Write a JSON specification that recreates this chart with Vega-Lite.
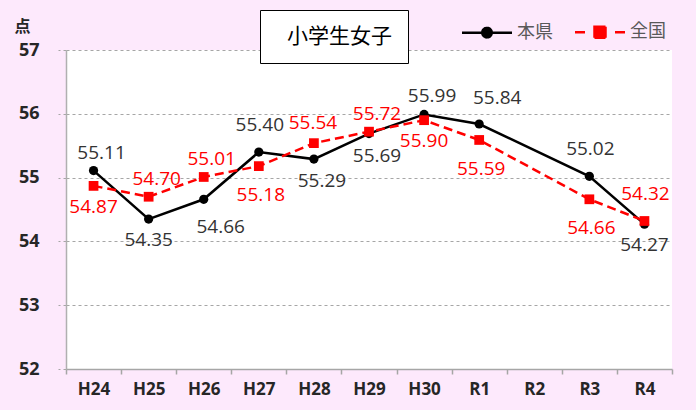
{
  "$schema": "https://vega.github.io/schema/vega-lite/v6.json",
  "width": 606,
  "height": 319,
  "autosize": {"type": "none"},
  "padding": {"left": 66, "top": 50, "right": 24, "bottom": 41},
  "background": "#fde9fc",
  "config": {
    "view": {"fill": "white", "stroke": null},
    "font": "Open Sans",
    "text": {"font": "Open Sans", "fontSize": 19}
  },
  "data": {
    "values": [
      {"x": "H24", "s": "本県", "v": 55.11},
      {"x": "H25", "s": "本県", "v": 54.35},
      {"x": "H26", "s": "本県", "v": 54.66},
      {"x": "H27", "s": "本県", "v": 55.40},
      {"x": "H28", "s": "本県", "v": 55.29},
      {"x": "H29", "s": "本県", "v": 55.69},
      {"x": "H30", "s": "本県", "v": 55.99},
      {"x": "R1", "s": "本県", "v": 55.84},
      {"x": "R3", "s": "本県", "v": 55.02},
      {"x": "R4", "s": "本県", "v": 54.27},
      {"x": "H24", "s": "全国", "v": 54.87},
      {"x": "H25", "s": "全国", "v": 54.70},
      {"x": "H26", "s": "全国", "v": 55.01},
      {"x": "H27", "s": "全国", "v": 55.18},
      {"x": "H28", "s": "全国", "v": 55.54},
      {"x": "H29", "s": "全国", "v": 55.72},
      {"x": "H30", "s": "全国", "v": 55.90},
      {"x": "R1", "s": "全国", "v": 55.59},
      {"x": "R3", "s": "全国", "v": 54.66},
      {"x": "R4", "s": "全国", "v": 54.32}
    ]
  },
  "encoding": {
    "x": {
      "field": "x",
      "type": "nominal",
      "sort": null,
      "scale": {
        "type": "band",
        "domain": ["H24", "H25", "H26", "H27", "H28", "H29", "H30", "R1", "R2", "R3", "R4"],
        "paddingInner": 0,
        "paddingOuter": 0
      },
      "axis": {
        "title": null,
        "grid": false,
        "labelAngle": 0,
        "domainColor": "#a6a6a6",
        "domainWidth": 1.5,
        "tickColor": "#a6a6a6",
        "tickWidth": 1.5,
        "tickSize": 5,
        "tickBand": "extent",
        "labelFont": "Open Sans",
        "labelFontSize": 17,
        "labelFontWeight": "bold",
        "labelColor": "#262626",
        "labelPadding": 7
      }
    },
    "y": {
      "field": "v",
      "type": "quantitative",
      "scale": {"domain": [52, 57], "nice": false, "zero": false},
      "axis": {
        "values": [52, 53, 54, 55, 56, 57],
        "grid": true,
        "gridColor": "#a6a6a6",
        "gridDash": [3, 3],
        "gridWidth": 1.2,
        "domainColor": "#b0b0b0",
        "domainWidth": 1.5,
        "tickColor": "#a6a6a6",
        "tickDash": [3, 3],
        "tickSize": 8,
        "labelFont": "Open Sans",
        "labelFontSize": 18,
        "labelFontWeight": "bold",
        "labelColor": "#262626",
        "labelPadding": 19,
        "title": "点",
        "titleAngle": 0,
        "titleFont": "Noto Sans CJK JP",
        "titleFontSize": 16,
        "titleFontWeight": "bold",
        "titleColor": "#262626",
        "titleAlign": "center",
        "titleBaseline": "middle",
        "titleX": -44,
        "titleY": -24
      }
    }
  },
  "layer": [
    {
      "mark": {"type": "point", "opacity": 0},
      "encoding": {
        "shape": {
          "datum": "小学生女子",
          "legend": {
            "orient": "none",
            "legendX": 194,
            "legendY": -40,
            "title": null,
            "symbolSize": 0,
            "symbolOpacity": 0,
            "labelOffset": -10,
            "labelExpr": "datum.label + '\u2002'",
            "labelFont": "Noto Sans CJK JP",
            "labelFontSize": 21,
            "labelColor": "black",
            "strokeColor": "black",
            "fillColor": "white",
            "padding": 16
          }
        }
      }
    },
    {
      "transform": [{"filter": "datum.s == '本県'"}],
      "mark": {"type": "line", "strokeWidth": 2.5},
      "encoding": {
        "color": {
          "field": "s",
          "type": "nominal",
          "scale": {"domain": ["本県", "全国"], "range": ["black", "#ff0000"]},
          "legend": {
            "orient": "none",
            "direction": "horizontal",
            "legendX": 412,
            "legendY": -27,
            "title": null,
            "padding": 0,
            "symbolSize": 100,
            "symbolStrokeWidth": 2.5,
            "labelOffset": 21,
            "columnPadding": 17,
            "labelFont": "Noto Sans CJK JP",
            "labelFontSize": 18,
            "labelColor": "#595959",
            "encode": {
              "symbols": {
                "update": {
                  "shape": {"signal": "datum.value == '本県' ? 'M-5,0H5M0.95,0A0.95,0.95,0,1,1,-0.95,0A0.95,0.95,0,1,1,0.95,0Z' : 'M-5,0H-3M3,0H5M-1.1,-1.1H1.1V1.1H-1.1Z'"},
                  "fill": {"signal": "datum.value == '本県' ? 'black' : '#ff0000'"},
                  "stroke": {"signal": "datum.value == '本県' ? 'black' : '#ff0000'"},
                  "strokeWidth": {"value": 2.5},
                  "strokeDash": {"value": [1, 0]},
                  "opacity": {"value": 1}
                }
              }
            }
          }
        }
      }
    },
    {
      "transform": [{"filter": "datum.s == '本県'"}],
      "mark": {"type": "point", "shape": "circle", "filled": true, "size": 85, "color": "black", "opacity": 1}
    },
    {
      "transform": [{"filter": "datum.s == '全国'"}],
      "mark": {"type": "line", "strokeWidth": 2.5, "strokeDash": [9, 5]},
      "encoding": {
        "color": {"field": "s", "type": "nominal"}
      }
    },
    {
      "transform": [{"filter": "datum.s == '全国'"}],
      "mark": {"type": "point", "shape": "square", "filled": true, "size": 95, "color": "#ff0000", "opacity": 1}
    },
    {
      "transform": [{"filter": "(datum.s == '本県' && indexof(['H24','H30'], datum.x) >= 0) || (datum.s == '全国' && indexof(['H25','H26','H29'], datum.x) >= 0)"}],
      "mark": {"type": "text", "dx": 8, "dy": -18},
      "encoding": {
        "text": {"field": "v", "type": "quantitative", "format": ".2f"},
        "color": {"condition": {"test": "datum.s == '全国'", "value": "#ff0000"}, "value": "#333333"}
      }
    },
    {
      "transform": [{"filter": "(datum.s == '本県' && indexof(['H27','R3'], datum.x) >= 0) || (datum.s == '全国' && datum.x == 'R4')"}],
      "mark": {"type": "text", "dx": 1, "dy": -27},
      "encoding": {
        "text": {"field": "v", "type": "quantitative", "format": ".2f"},
        "color": {"condition": {"test": "datum.s == '全国'", "value": "#ff0000"}, "value": "#333333"}
      }
    },
    {
      "transform": [{"filter": "datum.s == '全国' && datum.x == 'H28'"}],
      "mark": {"type": "text", "dx": -1, "dy": -20},
      "encoding": {
        "text": {"field": "v", "type": "quantitative", "format": ".2f"},
        "color": {"value": "#ff0000"}
      }
    },
    {
      "transform": [{"filter": "datum.s == '本県' && datum.x == 'R1'"}],
      "mark": {"type": "text", "dx": 18, "dy": -26},
      "encoding": {
        "text": {"field": "v", "type": "quantitative", "format": ".2f"},
        "color": {"value": "#333333"}
      }
    },
    {
      "transform": [{"filter": "(datum.s == '本県' && indexof(['H25','R4'], datum.x) >= 0) || (datum.s == '全国' && indexof(['H24','H30'], datum.x) >= 0)"}],
      "mark": {"type": "text", "dx": 0, "dy": 21},
      "encoding": {
        "text": {"field": "v", "type": "quantitative", "format": ".2f"},
        "color": {"condition": {"test": "datum.s == '全国'", "value": "#ff0000"}, "value": "#333333"}
      }
    },
    {
      "transform": [{"filter": "datum.s == '本県' && indexof(['H28','H29'], datum.x) >= 0"}],
      "mark": {"type": "text", "dx": 8, "dy": 22},
      "encoding": {
        "text": {"field": "v", "type": "quantitative", "format": ".2f"},
        "color": {"value": "#333333"}
      }
    },
    {
      "transform": [{"filter": "datum.s == '全国' && indexof(['H27','R1','R3'], datum.x) >= 0"}],
      "mark": {"type": "text", "dx": 2, "dy": 29},
      "encoding": {
        "text": {"field": "v", "type": "quantitative", "format": ".2f"},
        "color": {"value": "#ff0000"}
      }
    },
    {
      "transform": [{"filter": "datum.s == '本県' && datum.x == 'H26'"}],
      "mark": {"type": "text", "dx": 17, "dy": 28},
      "encoding": {
        "text": {"field": "v", "type": "quantitative", "format": ".2f"},
        "color": {"value": "#333333"}
      }
    }
  ]
}
